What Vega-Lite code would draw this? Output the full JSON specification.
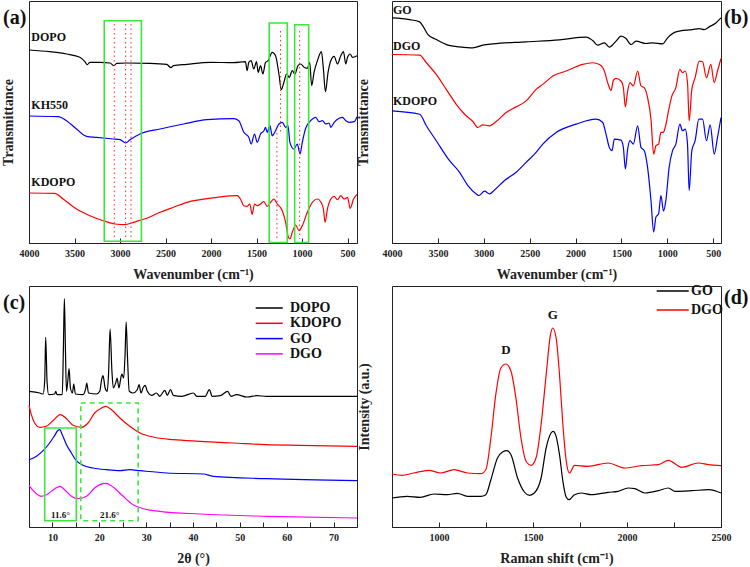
{
"$schema": "https://vega.github.io/schema/vega-lite/v6.json",
"padding": {"left": 0, "top": 0, "right": 2, "bottom": 2},
"background": "white",
"columns": 2,
"bounds": "flush",
"spacing": {"row": 43, "column": 35},
"resolve": {"scale": {"x": "independent", "y": "independent", "color": "independent"}, "legend": {"color": "independent"}},
"config": {
  "font": "Liberation Serif",
  "view": {"stroke": "#222222", "strokeWidth": 1},
  "axis": {"grid": false, "labelFont": "Liberation Serif", "labelFontWeight": "bold", "labelFontSize": 10, "labelColor": "#222222", "titleFont": "Liberation Serif", "titleFontWeight": "bold", "titleFontSize": 14, "titleColor": "#222222", "domainColor": "#222222", "tickColor": "#222222"},
  "axisX": {"tickSize": -5, "labelPadding": 10, "titlePadding": 9, "labelFlush": false, "labelOverlap": false, "labelAngle": 0, "format": "d"},
  "axisY": {"labels": false, "ticks": false, "domain": false},
  "text": {"font": "Liberation Serif", "fontWeight": "bold", "color": "#111111"}
},
"datasets": {
  "ftirA": [
    {"s":"DOPO","x":4000,"y":193.0},{"s":"DOPO","x":3772,"y":191.3},{"s":"DOPO","x":3588,"y":189.0},{"s":"DOPO","x":3441,"y":185.7},{"s":"DOPO","x":3386,"y":181.3},{"s":"DOPO","x":3360,"y":178.3},{"s":"DOPO","x":3331,"y":180.7},{"s":"DOPO","x":3221,"y":180.7},{"s":"DOPO","x":3110,"y":180.0},{"s":"DOPO","x":3066,"y":177.3},{"s":"DOPO","x":3037,"y":179.7},{"s":"DOPO","x":2927,"y":180.0},{"s":"DOPO","x":2669,"y":179.7},{"s":"DOPO","x":2486,"y":178.7},{"s":"DOPO","x":2441,"y":175.3},{"s":"DOPO","x":2412,"y":177.3},{"s":"DOPO","x":2265,"y":178.7},{"s":"DOPO","x":2008,"y":180.7},{"s":"DOPO","x":1750,"y":180.3},{"s":"DOPO","x":1622,"y":181.3},{"s":"DOPO","x":1603,"y":172.3},{"s":"DOPO","x":1585,"y":180.7},{"s":"DOPO","x":1559,"y":182.3},{"s":"DOPO","x":1530,"y":174.0},{"s":"DOPO","x":1500,"y":181.3},{"s":"DOPO","x":1482,"y":170.7},{"s":"DOPO","x":1456,"y":177.3},{"s":"DOPO","x":1430,"y":169.0},{"s":"DOPO","x":1401,"y":180.7},{"s":"DOPO","x":1372,"y":182.3},{"s":"DOPO","x":1328,"y":190.7},{"s":"DOPO","x":1291,"y":187.3},{"s":"DOPO","x":1254,"y":169.0},{"s":"DOPO","x":1228,"y":153.3},{"s":"DOPO","x":1199,"y":160.7},{"s":"DOPO","x":1170,"y":169.0},{"s":"DOPO","x":1140,"y":165.7},{"s":"DOPO","x":1107,"y":172.3},{"s":"DOPO","x":1078,"y":169.0},{"s":"DOPO","x":1045,"y":177.3},{"s":"DOPO","x":1015,"y":179.0},{"s":"DOPO","x":978,"y":175.7},{"s":"DOPO","x":942,"y":174.7},{"s":"DOPO","x":916,"y":180.7},{"s":"DOPO","x":894,"y":157.3},{"s":"DOPO","x":868,"y":170.7},{"s":"DOPO","x":831,"y":182.3},{"s":"DOPO","x":787,"y":191.3},{"s":"DOPO","x":765,"y":174.0},{"s":"DOPO","x":743,"y":151.3},{"s":"DOPO","x":714,"y":170.7},{"s":"DOPO","x":684,"y":182.3},{"s":"DOPO","x":647,"y":186.7},{"s":"DOPO","x":611,"y":179.0},{"s":"DOPO","x":574,"y":187.3},{"s":"DOPO","x":545,"y":191.3},{"s":"DOPO","x":519,"y":179.0},{"s":"DOPO","x":500,"y":185.7},{"s":"DOPO","x":471,"y":189.0},{"s":"DOPO","x":445,"y":185.7},{"s":"DOPO","x":396,"y":187.3},
    {"s":"KH550","x":4000,"y":127.0},{"s":"KH550","x":3680,"y":126.3},{"s":"KH550","x":3588,"y":122.3},{"s":"KH550","x":3478,"y":114.0},{"s":"KH550","x":3368,"y":106.7},{"s":"KH550","x":3257,"y":105.7},{"s":"KH550","x":3074,"y":104.0},{"s":"KH550","x":3000,"y":103.3},{"s":"KH550","x":2938,"y":100.0},{"s":"KH550","x":2890,"y":103.3},{"s":"KH550","x":2780,"y":109.0},{"s":"KH550","x":2559,"y":114.0},{"s":"KH550","x":2302,"y":119.0},{"s":"KH550","x":2044,"y":123.3},{"s":"KH550","x":1750,"y":124.3},{"s":"KH550","x":1695,"y":122.3},{"s":"KH550","x":1640,"y":110.7},{"s":"KH550","x":1585,"y":105.7},{"s":"KH550","x":1559,"y":99.0},{"s":"KH550","x":1522,"y":109.0},{"s":"KH550","x":1493,"y":100.7},{"s":"KH550","x":1456,"y":109.0},{"s":"KH550","x":1419,"y":112.3},{"s":"KH550","x":1401,"y":115.7},{"s":"KH550","x":1383,"y":110.7},{"s":"KH550","x":1353,"y":117.3},{"s":"KH550","x":1328,"y":107.3},{"s":"KH550","x":1291,"y":112.3},{"s":"KH550","x":1254,"y":119.0},{"s":"KH550","x":1217,"y":120.7},{"s":"KH550","x":1180,"y":115.7},{"s":"KH550","x":1155,"y":117.3},{"s":"KH550","x":1133,"y":100.7},{"s":"KH550","x":1089,"y":94.0},{"s":"KH550","x":1052,"y":99.0},{"s":"KH550","x":1022,"y":89.0},{"s":"KH550","x":997,"y":100.7},{"s":"KH550","x":960,"y":114.7},{"s":"KH550","x":905,"y":122.3},{"s":"KH550","x":850,"y":125.7},{"s":"KH550","x":813,"y":121.3},{"s":"KH550","x":776,"y":122.3},{"s":"KH550","x":739,"y":119.0},{"s":"KH550","x":703,"y":120.0},{"s":"KH550","x":684,"y":115.7},{"s":"KH550","x":647,"y":120.7},{"s":"KH550","x":592,"y":124.7},{"s":"KH550","x":556,"y":125.7},{"s":"KH550","x":519,"y":122.3},{"s":"KH550","x":482,"y":120.7},{"s":"KH550","x":427,"y":121.3},{"s":"KH550","x":396,"y":126.3},
    {"s":"KDOPO","x":4000,"y":50.0},{"s":"KDOPO","x":3717,"y":49.7},{"s":"KDOPO","x":3625,"y":44.0},{"s":"KDOPO","x":3478,"y":34.0},{"s":"KDOPO","x":3331,"y":27.3},{"s":"KDOPO","x":3184,"y":22.3},{"s":"KDOPO","x":3055,"y":19.0},{"s":"KDOPO","x":2945,"y":18.3},{"s":"KDOPO","x":2853,"y":20.7},{"s":"KDOPO","x":2706,"y":24.7},{"s":"KDOPO","x":2559,"y":30.7},{"s":"KDOPO","x":2412,"y":35.7},{"s":"KDOPO","x":2265,"y":40.7},{"s":"KDOPO","x":2118,"y":43.3},{"s":"KDOPO","x":1934,"y":45.7},{"s":"KDOPO","x":1713,"y":47.3},{"s":"KDOPO","x":1677,"y":44.0},{"s":"KDOPO","x":1640,"y":37.3},{"s":"KDOPO","x":1603,"y":36.7},{"s":"KDOPO","x":1574,"y":39.0},{"s":"KDOPO","x":1548,"y":28.7},{"s":"KDOPO","x":1522,"y":39.0},{"s":"KDOPO","x":1493,"y":37.3},{"s":"KDOPO","x":1456,"y":39.0},{"s":"KDOPO","x":1419,"y":41.3},{"s":"KDOPO","x":1383,"y":36.7},{"s":"KDOPO","x":1346,"y":40.7},{"s":"KDOPO","x":1309,"y":44.0},{"s":"KDOPO","x":1272,"y":39.0},{"s":"KDOPO","x":1217,"y":32.3},{"s":"KDOPO","x":1180,"y":20.7},{"s":"KDOPO","x":1155,"y":7.3},{"s":"KDOPO","x":1133,"y":4.0},{"s":"KDOPO","x":1107,"y":10.7},{"s":"KDOPO","x":1070,"y":18.0},{"s":"KDOPO","x":1034,"y":12.3},{"s":"KDOPO","x":997,"y":17.3},{"s":"KDOPO","x":942,"y":30.7},{"s":"KDOPO","x":887,"y":40.7},{"s":"KDOPO","x":831,"y":44.0},{"s":"KDOPO","x":795,"y":41.3},{"s":"KDOPO","x":765,"y":34.0},{"s":"KDOPO","x":747,"y":20.7},{"s":"KDOPO","x":721,"y":34.0},{"s":"KDOPO","x":684,"y":44.0},{"s":"KDOPO","x":647,"y":46.7},{"s":"KDOPO","x":611,"y":43.3},{"s":"KDOPO","x":574,"y":47.3},{"s":"KDOPO","x":537,"y":44.0},{"s":"KDOPO","x":500,"y":45.7},{"s":"KDOPO","x":471,"y":34.7},{"s":"KDOPO","x":434,"y":44.0},{"s":"KDOPO","x":396,"y":48.7}
  ],
  "ftirB": [
    {"s":"GO","x":4000,"y":226.0},{"s":"GO","x":3808,"y":224.3},{"s":"GO","x":3699,"y":222.0},{"s":"GO","x":3663,"y":217.7},{"s":"GO","x":3608,"y":209.3},{"s":"GO","x":3518,"y":204.3},{"s":"GO","x":3391,"y":198.7},{"s":"GO","x":3264,"y":197.0},{"s":"GO","x":3119,"y":196.0},{"s":"GO","x":3010,"y":198.7},{"s":"GO","x":2901,"y":200.0},{"s":"GO","x":2538,"y":202.0},{"s":"GO","x":2176,"y":204.0},{"s":"GO","x":1886,"y":206.7},{"s":"GO","x":1813,"y":203.3},{"s":"GO","x":1759,"y":198.7},{"s":"GO","x":1686,"y":201.0},{"s":"GO","x":1632,"y":196.7},{"s":"GO","x":1559,"y":202.7},{"s":"GO","x":1505,"y":207.7},{"s":"GO","x":1450,"y":205.3},{"s":"GO","x":1396,"y":199.3},{"s":"GO","x":1341,"y":202.7},{"s":"GO","x":1233,"y":200.3},{"s":"GO","x":1160,"y":201.0},{"s":"GO","x":1051,"y":200.0},{"s":"GO","x":997,"y":206.0},{"s":"GO","x":906,"y":212.0},{"s":"GO","x":725,"y":214.3},{"s":"GO","x":652,"y":215.3},{"s":"GO","x":598,"y":214.3},{"s":"GO","x":544,"y":217.0},{"s":"GO","x":471,"y":221.0},{"s":"GO","x":415,"y":226.0},
    {"s":"DGO","x":4000,"y":189.3},{"s":"DGO","x":3699,"y":188.7},{"s":"DGO","x":3626,"y":181.0},{"s":"DGO","x":3518,"y":169.3},{"s":"DGO","x":3409,"y":154.3},{"s":"DGO","x":3300,"y":139.3},{"s":"DGO","x":3209,"y":129.3},{"s":"DGO","x":3119,"y":122.0},{"s":"DGO","x":3064,"y":116.0},{"s":"DGO","x":3010,"y":118.7},{"s":"DGO","x":2937,"y":117.7},{"s":"DGO","x":2865,"y":122.0},{"s":"DGO","x":2756,"y":131.0},{"s":"DGO","x":2647,"y":136.7},{"s":"DGO","x":2538,"y":142.7},{"s":"DGO","x":2430,"y":154.3},{"s":"DGO","x":2357,"y":159.3},{"s":"DGO","x":2248,"y":167.7},{"s":"DGO","x":2103,"y":172.7},{"s":"DGO","x":1922,"y":179.3},{"s":"DGO","x":1813,"y":181.0},{"s":"DGO","x":1740,"y":179.3},{"s":"DGO","x":1686,"y":172.7},{"s":"DGO","x":1650,"y":161.0},{"s":"DGO","x":1613,"y":153.3},{"s":"DGO","x":1588,"y":163.3},{"s":"DGO","x":1559,"y":165.3},{"s":"DGO","x":1505,"y":162.7},{"s":"DGO","x":1479,"y":156.0},{"s":"DGO","x":1457,"y":136.7},{"s":"DGO","x":1432,"y":152.7},{"s":"DGO","x":1407,"y":161.0},{"s":"DGO","x":1370,"y":157.7},{"s":"DGO","x":1323,"y":172.7},{"s":"DGO","x":1287,"y":157.7},{"s":"DGO","x":1251,"y":156.0},{"s":"DGO","x":1215,"y":146.0},{"s":"DGO","x":1178,"y":124.3},{"s":"DGO","x":1149,"y":89.3},{"s":"DGO","x":1124,"y":97.7},{"s":"DGO","x":1095,"y":99.3},{"s":"DGO","x":1070,"y":111.0},{"s":"DGO","x":1045,"y":111.0},{"s":"DGO","x":1023,"y":116.0},{"s":"DGO","x":987,"y":132.7},{"s":"DGO","x":950,"y":147.7},{"s":"DGO","x":907,"y":156.0},{"s":"DGO","x":863,"y":174.3},{"s":"DGO","x":834,"y":171.0},{"s":"DGO","x":805,"y":172.7},{"s":"DGO","x":780,"y":161.0},{"s":"DGO","x":762,"y":122.7},{"s":"DGO","x":733,"y":154.3},{"s":"DGO","x":697,"y":166.0},{"s":"DGO","x":652,"y":182.7},{"s":"DGO","x":616,"y":182.0},{"s":"DGO","x":573,"y":166.0},{"s":"DGO","x":526,"y":179.3},{"s":"DGO","x":489,"y":161.0},{"s":"DGO","x":453,"y":172.7},{"s":"DGO","x":415,"y":185.3},
    {"s":"KDOPO","x":4000,"y":132.7},{"s":"KDOPO","x":3699,"y":129.3},{"s":"KDOPO","x":3626,"y":117.7},{"s":"KDOPO","x":3518,"y":102.7},{"s":"KDOPO","x":3373,"y":82.7},{"s":"KDOPO","x":3264,"y":71.0},{"s":"KDOPO","x":3173,"y":57.7},{"s":"KDOPO","x":3082,"y":49.3},{"s":"KDOPO","x":3053,"y":47.7},{"s":"KDOPO","x":2992,"y":52.0},{"s":"KDOPO","x":2937,"y":49.3},{"s":"KDOPO","x":2883,"y":53.3},{"s":"KDOPO","x":2774,"y":62.7},{"s":"KDOPO","x":2647,"y":71.0},{"s":"KDOPO","x":2538,"y":81.0},{"s":"KDOPO","x":2430,"y":91.0},{"s":"KDOPO","x":2357,"y":99.3},{"s":"KDOPO","x":2212,"y":111.0},{"s":"KDOPO","x":1994,"y":119.3},{"s":"KDOPO","x":1777,"y":124.3},{"s":"KDOPO","x":1704,"y":121.0},{"s":"KDOPO","x":1668,"y":109.3},{"s":"KDOPO","x":1632,"y":96.0},{"s":"KDOPO","x":1603,"y":92.7},{"s":"KDOPO","x":1577,"y":104.3},{"s":"KDOPO","x":1505,"y":103.3},{"s":"KDOPO","x":1479,"y":96.0},{"s":"KDOPO","x":1457,"y":74.3},{"s":"KDOPO","x":1432,"y":94.3},{"s":"KDOPO","x":1407,"y":102.7},{"s":"KDOPO","x":1370,"y":99.3},{"s":"KDOPO","x":1323,"y":117.7},{"s":"KDOPO","x":1287,"y":96.0},{"s":"KDOPO","x":1251,"y":92.7},{"s":"KDOPO","x":1215,"y":76.0},{"s":"KDOPO","x":1178,"y":42.7},{"s":"KDOPO","x":1149,"y":11.0},{"s":"KDOPO","x":1124,"y":26.0},{"s":"KDOPO","x":1095,"y":29.3},{"s":"KDOPO","x":1070,"y":47.7},{"s":"KDOPO","x":1041,"y":32.0},{"s":"KDOPO","x":1016,"y":42.7},{"s":"KDOPO","x":980,"y":76.0},{"s":"KDOPO","x":943,"y":92.7},{"s":"KDOPO","x":907,"y":99.3},{"s":"KDOPO","x":863,"y":119.3},{"s":"KDOPO","x":834,"y":112.7},{"s":"KDOPO","x":805,"y":114.3},{"s":"KDOPO","x":780,"y":99.3},{"s":"KDOPO","x":762,"y":52.7},{"s":"KDOPO","x":733,"y":92.7},{"s":"KDOPO","x":697,"y":102.7},{"s":"KDOPO","x":656,"y":124.3},{"s":"KDOPO","x":616,"y":124.3},{"s":"KDOPO","x":573,"y":102.7},{"s":"KDOPO","x":533,"y":118.7},{"s":"KDOPO","x":489,"y":89.3},{"s":"KDOPO","x":453,"y":106.0},{"s":"KDOPO","x":415,"y":126.0}
  ],
  "xrdC": [
    {"s":"DOPO","x":5.0,"y":135.7},{"s":"DOPO","x":7.3,"y":134.0},{"s":"DOPO","x":8.0,"y":133.0},{"s":"DOPO","x":8.35,"y":145.7},{"s":"DOPO","x":8.56,"y":189.7},{"s":"DOPO","x":8.85,"y":145.7},{"s":"DOPO","x":9.2,"y":132.3},{"s":"DOPO","x":10.5,"y":133.0},{"s":"DOPO","x":10.7,"y":135.7},{"s":"DOPO","x":11.0,"y":132.3},{"s":"DOPO","x":12.1,"y":132.3},{"s":"DOPO","x":12.34,"y":179.0},{"s":"DOPO","x":12.55,"y":228.3},{"s":"DOPO","x":12.77,"y":179.0},{"s":"DOPO","x":13.0,"y":135.7},{"s":"DOPO","x":13.27,"y":145.7},{"s":"DOPO","x":13.55,"y":158.3},{"s":"DOPO","x":13.84,"y":139.0},{"s":"DOPO","x":14.27,"y":134.0},{"s":"DOPO","x":14.55,"y":143.0},{"s":"DOPO","x":14.9,"y":133.0},{"s":"DOPO","x":16.5,"y":132.3},{"s":"DOPO","x":17.1,"y":138.3},{"s":"DOPO","x":17.33,"y":144.0},{"s":"DOPO","x":17.7,"y":134.0},{"s":"DOPO","x":19.4,"y":133.0},{"s":"DOPO","x":20.1,"y":135.7},{"s":"DOPO","x":20.5,"y":147.3},{"s":"DOPO","x":20.8,"y":151.3},{"s":"DOPO","x":21.25,"y":139.0},{"s":"DOPO","x":21.7,"y":135.7},{"s":"DOPO","x":22.0,"y":155.7},{"s":"DOPO","x":22.3,"y":198.0},{"s":"DOPO","x":22.7,"y":155.7},{"s":"DOPO","x":23.0,"y":139.0},{"s":"DOPO","x":23.5,"y":144.0},{"s":"DOPO","x":23.8,"y":149.0},{"s":"DOPO","x":24.2,"y":139.0},{"s":"DOPO","x":24.5,"y":146.3},{"s":"DOPO","x":24.8,"y":153.0},{"s":"DOPO","x":25.2,"y":149.0},{"s":"DOPO","x":25.5,"y":172.3},{"s":"DOPO","x":25.74,"y":205.0},{"s":"DOPO","x":26.0,"y":172.3},{"s":"DOPO","x":26.4,"y":135.7},{"s":"DOPO","x":27.2,"y":134.0},{"s":"DOPO","x":28.1,"y":137.3},{"s":"DOPO","x":28.5,"y":142.3},{"s":"DOPO","x":28.9,"y":134.0},{"s":"DOPO","x":29.4,"y":139.7},{"s":"DOPO","x":29.8,"y":141.7},{"s":"DOPO","x":30.2,"y":136.3},{"s":"DOPO","x":31.2,"y":131.7},{"s":"DOPO","x":32.2,"y":134.0},{"s":"DOPO","x":32.9,"y":130.7},{"s":"DOPO","x":34.0,"y":136.7},{"s":"DOPO","x":34.5,"y":131.7},{"s":"DOPO","x":35.2,"y":137.3},{"s":"DOPO","x":35.8,"y":131.7},{"s":"DOPO","x":37.6,"y":130.7},{"s":"DOPO","x":40.1,"y":134.0},{"s":"DOPO","x":40.8,"y":130.7},{"s":"DOPO","x":42.6,"y":130.7},{"s":"DOPO","x":43.5,"y":137.3},{"s":"DOPO","x":44.1,"y":130.7},{"s":"DOPO","x":45.8,"y":131.3},{"s":"DOPO","x":47.4,"y":135.7},{"s":"DOPO","x":48.1,"y":130.7},{"s":"DOPO","x":49.3,"y":132.3},{"s":"DOPO","x":51.5,"y":130.0},{"s":"DOPO","x":53.6,"y":131.3},{"s":"DOPO","x":55.7,"y":130.7},{"s":"DOPO","x":62.9,"y":130.7},{"s":"DOPO","x":75.0,"y":130.7},
    {"s":"KDOPO","x":5.0,"y":121.7},{"s":"KDOPO","x":5.5,"y":112.3},{"s":"KDOPO","x":6.2,"y":104.0},{"s":"KDOPO","x":7.3,"y":99.7},{"s":"KDOPO","x":8.7,"y":100.7},{"s":"KDOPO","x":10.1,"y":106.3},{"s":"KDOPO","x":11.7,"y":112.3},{"s":"KDOPO","x":13.0,"y":108.3},{"s":"KDOPO","x":14.4,"y":101.7},{"s":"KDOPO","x":16.2,"y":99.7},{"s":"KDOPO","x":17.6,"y":104.0},{"s":"KDOPO","x":19.0,"y":114.0},{"s":"KDOPO","x":20.5,"y":119.0},{"s":"KDOPO","x":21.4,"y":120.7},{"s":"KDOPO","x":22.6,"y":117.3},{"s":"KDOPO","x":24.4,"y":109.0},{"s":"KDOPO","x":26.5,"y":100.7},{"s":"KDOPO","x":28.7,"y":94.0},{"s":"KDOPO","x":31.5,"y":90.0},{"s":"KDOPO","x":35.8,"y":87.3},{"s":"KDOPO","x":41.5,"y":85.7},{"s":"KDOPO","x":48.6,"y":84.0},{"s":"KDOPO","x":55.7,"y":82.3},{"s":"KDOPO","x":62.9,"y":81.7},{"s":"KDOPO","x":75.0,"y":80.7},
    {"s":"GO","x":5.0,"y":67.3},{"s":"GO","x":6.6,"y":70.7},{"s":"GO","x":8.0,"y":76.3},{"s":"GO","x":9.4,"y":84.0},{"s":"GO","x":10.5,"y":91.7},{"s":"GO","x":11.2,"y":96.7},{"s":"GO","x":11.56,"y":97.3},{"s":"GO","x":12.1,"y":92.3},{"s":"GO","x":13.0,"y":82.3},{"s":"GO","x":14.05,"y":74.0},{"s":"GO","x":15.1,"y":66.3},{"s":"GO","x":16.5,"y":61.7},{"s":"GO","x":18.7,"y":59.0},{"s":"GO","x":21.5,"y":57.3},{"s":"GO","x":24.4,"y":56.3},{"s":"GO","x":26.5,"y":57.3},{"s":"GO","x":28.7,"y":56.3},{"s":"GO","x":34.4,"y":54.0},{"s":"GO","x":42.2,"y":53.0},{"s":"GO","x":44.3,"y":50.7},{"s":"GO","x":55.7,"y":48.3},{"s":"GO","x":75.0,"y":46.3},
    {"s":"DGO","x":5.0,"y":41.7},{"s":"DGO","x":5.9,"y":36.3},{"s":"DGO","x":7.6,"y":30.7},{"s":"DGO","x":9.1,"y":33.3},{"s":"DGO","x":10.5,"y":38.3},{"s":"DGO","x":11.6,"y":40.7},{"s":"DGO","x":12.6,"y":37.3},{"s":"DGO","x":14.05,"y":30.7},{"s":"DGO","x":15.5,"y":28.3},{"s":"DGO","x":17.3,"y":30.7},{"s":"DGO","x":19.0,"y":39.0},{"s":"DGO","x":20.8,"y":43.3},{"s":"DGO","x":21.5,"y":43.7},{"s":"DGO","x":23.0,"y":39.7},{"s":"DGO","x":25.1,"y":30.7},{"s":"DGO","x":27.2,"y":22.3},{"s":"DGO","x":29.4,"y":18.3},{"s":"DGO","x":32.9,"y":15.7},{"s":"DGO","x":41.5,"y":13.0},{"s":"DGO","x":55.7,"y":10.7},{"s":"DGO","x":75.0,"y":9.0}
  ],
  "ramanD": [
    {"s":"GO","x":750,"y":29.0},{"s":"GO","x":830,"y":30.7},{"s":"GO","x":901,"y":29.7},{"s":"GO","x":973,"y":33.0},{"s":"GO","x":1044,"y":32.3},{"s":"GO","x":1097,"y":33.7},{"s":"GO","x":1151,"y":30.7},{"s":"GO","x":1222,"y":30.7},{"s":"GO","x":1249,"y":32.3},{"s":"GO","x":1276,"y":47.3},{"s":"GO","x":1311,"y":69.0},{"s":"GO","x":1338,"y":75.0},{"s":"GO","x":1361,"y":76.3},{"s":"GO","x":1383,"y":72.3},{"s":"GO","x":1418,"y":49.0},{"s":"GO","x":1454,"y":35.0},{"s":"GO","x":1481,"y":31.7},{"s":"GO","x":1507,"y":34.0},{"s":"GO","x":1543,"y":49.0},{"s":"GO","x":1570,"y":79.0},{"s":"GO","x":1596,"y":94.0},{"s":"GO","x":1607,"y":95.7},{"s":"GO","x":1623,"y":90.7},{"s":"GO","x":1641,"y":72.3},{"s":"GO","x":1659,"y":45.7},{"s":"GO","x":1677,"y":29.7},{"s":"GO","x":1691,"y":27.3},{"s":"GO","x":1721,"y":32.3},{"s":"GO","x":1757,"y":34.0},{"s":"GO","x":1810,"y":32.3},{"s":"GO","x":1899,"y":34.7},{"s":"GO","x":1953,"y":35.7},{"s":"GO","x":2006,"y":39.0},{"s":"GO","x":2042,"y":38.3},{"s":"GO","x":2095,"y":34.0},{"s":"GO","x":2167,"y":36.3},{"s":"GO","x":2220,"y":39.0},{"s":"GO","x":2256,"y":35.7},{"s":"GO","x":2345,"y":36.3},{"s":"GO","x":2434,"y":37.3},{"s":"GO","x":2500,"y":34.0},
    {"s":"DGO","x":750,"y":53.0},{"s":"DGO","x":803,"y":51.7},{"s":"DGO","x":866,"y":54.0},{"s":"DGO","x":946,"y":56.7},{"s":"DGO","x":1008,"y":54.0},{"s":"DGO","x":1080,"y":57.3},{"s":"DGO","x":1151,"y":54.0},{"s":"DGO","x":1222,"y":53.3},{"s":"DGO","x":1249,"y":57.3},{"s":"DGO","x":1276,"y":89.0},{"s":"DGO","x":1302,"y":132.3},{"s":"DGO","x":1329,"y":159.0},{"s":"DGO","x":1356,"y":163.0},{"s":"DGO","x":1383,"y":155.7},{"s":"DGO","x":1409,"y":129.0},{"s":"DGO","x":1436,"y":89.0},{"s":"DGO","x":1463,"y":65.7},{"s":"DGO","x":1490,"y":61.7},{"s":"DGO","x":1516,"y":69.0},{"s":"DGO","x":1543,"y":102.3},{"s":"DGO","x":1570,"y":152.3},{"s":"DGO","x":1593,"y":192.3},{"s":"DGO","x":1605,"y":199.0},{"s":"DGO","x":1623,"y":189.0},{"s":"DGO","x":1641,"y":152.3},{"s":"DGO","x":1659,"y":102.3},{"s":"DGO","x":1677,"y":65.7},{"s":"DGO","x":1694,"y":54.0},{"s":"DGO","x":1721,"y":61.7},{"s":"DGO","x":1792,"y":60.7},{"s":"DGO","x":1899,"y":64.0},{"s":"DGO","x":1988,"y":59.0},{"s":"DGO","x":2077,"y":61.3},{"s":"DGO","x":2167,"y":62.3},{"s":"DGO","x":2220,"y":66.7},{"s":"DGO","x":2291,"y":59.7},{"s":"DGO","x":2380,"y":64.0},{"s":"DGO","x":2434,"y":62.3},{"s":"DGO","x":2500,"y":61.3}
  ]
},
"concat": [
  {
    "width": 328, "height": 242,
    "layer": [
      {"data": {"name": "ftirA"},
       "mark": {"type": "line", "strokeWidth": 1.2, "interpolate": "monotone"},
       "encoding": {
         "x": {"field": "x", "type": "quantitative", "scale": {"domain": [396, 4000], "reverse": true, "nice": false, "zero": false},
               "axis": {"title": "Wavenumber (cm⁻¹)", "values": [4000,3750,3500,3250,3000,2750,2500,2250,2000,1750,1500,1250,1000,750,500], "labelExpr": "abs(datum.value / 500 - round(datum.value / 500)) < 0.01 ? datum.label : ''"}},
         "y": {"field": "y", "type": "quantitative", "scale": {"domain": [0, 242], "nice": false, "zero": false}, "axis": {"title": "Transmittance", "titlePadding": 14}},
         "color": {"field": "s", "type": "nominal", "scale": {"domain": ["DOPO","KH550","KDOPO"], "range": ["#000000","#0000ff","#ff0000"]}, "legend": null}
       }},
      {"data": {"values": [{"x":3173,"x2":2765,"y":222.3,"y2":1.7},{"x":1361,"x2":1162,"y":220,"y2":0.5},{"x":1081,"x2":927,"y":218.3,"y2":0.5}]},
       "mark": {"type": "rect", "filled": false, "stroke": "#3ce63c", "strokeWidth": 1.6},
       "encoding": {"x": {"field": "x", "type": "quantitative"}, "x2": {"field": "x2"}, "y": {"field": "y", "type": "quantitative"}, "y2": {"field": "y2"}}},
      {"data": {"values": [{"x":3063,"y":219,"y2":4},{"x":2938,"y":219,"y2":4},{"x":2879,"y":219,"y2":4},{"x":1236,"y":212,"y2":110},{"x":1276,"y":110,"y2":4},{"x":1026,"y":212,"y2":4}]},
       "mark": {"type": "rule", "stroke": "#ff2a2a", "strokeWidth": 1, "strokeDash": [1.5, 3]},
       "encoding": {"x": {"field": "x", "type": "quantitative"}, "y": {"field": "y", "type": "quantitative"}, "y2": {"field": "y2"}}},
      {"data": {"values": [{"x":3974,"y":206,"t":"DOPO"},{"x":3974,"y":138,"t":"KH550"},{"x":3974,"y":61,"t":"KDOPO"}]},
       "mark": {"type": "text", "align": "left", "baseline": "middle", "fontSize": 12},
       "encoding": {"x": {"field": "x", "type": "quantitative"}, "y": {"field": "y", "type": "quantitative"}, "text": {"field": "t"}}},
      {"data": {"values": [{"x":4286,"y":225,"t":"(a)"}]},
       "mark": {"type": "text", "align": "left", "baseline": "middle", "fontSize": 20},
       "encoding": {"x": {"field": "x", "type": "quantitative"}, "y": {"field": "y", "type": "quantitative"}, "text": {"field": "t"}}}
    ]
  },
  {
    "width": 329, "height": 242,
    "layer": [
      {"data": {"name": "ftirB"},
       "mark": {"type": "line", "strokeWidth": 1.2, "interpolate": "monotone"},
       "encoding": {
         "x": {"field": "x", "type": "quantitative", "scale": {"domain": [415, 4000], "reverse": true, "nice": false, "zero": false},
               "axis": {"title": "Wavenumber (cm⁻¹)", "values": [4000,3750,3500,3250,3000,2750,2500,2250,2000,1750,1500,1250,1000,750,500], "labelExpr": "abs(datum.value / 500 - round(datum.value / 500)) < 0.01 ? datum.label : ''"}},
         "y": {"field": "y", "type": "quantitative", "scale": {"domain": [0, 243], "nice": false, "zero": false}, "axis": {"title": "Transmittance", "titlePadding": 22}},
         "color": {"field": "s", "type": "nominal", "scale": {"domain": ["GO","DGO","KDOPO"], "range": ["#000000","#ff0000","#0000ff"]}, "legend": null}
       }},
      {"data": {"values": [{"x":3989,"y":234,"t":"GO"},{"x":3989,"y":198,"t":"DGO"},{"x":3989,"y":143,"t":"KDOPO"}]},
       "mark": {"type": "text", "align": "left", "baseline": "middle", "fontSize": 12},
       "encoding": {"x": {"field": "x", "type": "quantitative"}, "y": {"field": "y", "type": "quantitative"}, "text": {"field": "t"}}},
      {"data": {"values": [{"x":382,"y":226,"t":"(b)"}]},
       "mark": {"type": "text", "align": "left", "baseline": "middle", "fontSize": 20},
       "encoding": {"x": {"field": "x", "type": "quantitative"}, "y": {"field": "y", "type": "quantitative"}, "text": {"field": "t"}}}
    ]
  },
  {
    "width": 328, "height": 241,
    "resolve": {"axis": {"x": "independent"}},
    "layer": [
      {"data": {"name": "xrdC"},
       "mark": {"type": "line", "strokeWidth": 1.2, "interpolate": "monotone"},
       "encoding": {
         "x": {"field": "x", "type": "quantitative", "scale": {"domain": [5, 75], "nice": false, "zero": false},
               "axis": {"orient": "bottom", "title": "2θ (°)", "values": [10,20,30,40,50,60,70]}},
         "y": {"field": "y", "type": "quantitative", "scale": {"domain": [0, 241], "nice": false, "zero": false}, "axis": {"title": null}},
         "color": {"field": "s", "type": "nominal", "scale": {"domain": ["DOPO","KDOPO","GO","DGO"], "range": ["#000000","#ff0000","#0000ff","#ff00ff"]},
                   "legend": {"orient": "top-right", "offset": 15, "title": null, "padding": 0, "symbolType": "M-3.71,0H1", "symbolSize": 132, "symbolStrokeWidth": 1.5, "labelFont": "Liberation Serif", "labelFontWeight": "bold", "labelFontSize": 14, "labelColor": "#111111", "labelOffset": 6, "rowPadding": 1.3}}
       }},
      {"data": {"values": [{"x":8.35,"x2":15.1,"y":99,"y2":6.3}]},
       "mark": {"type": "rect", "filled": false, "stroke": "#3ce63c", "strokeWidth": 1.6},
       "encoding": {"x": {"field": "x", "type": "quantitative", "axis": {"orient": "bottom", "title": null, "labels": false, "domain": false, "values": [15,25,35,45,55,65]}}, "x2": {"field": "x2"}, "y": {"field": "y", "type": "quantitative"}, "y2": {"field": "y2"}}},
      {"data": {"values": [{"x":16.05,"x2":28.3,"y":124,"y2":6.3}]},
       "mark": {"type": "rect", "filled": false, "stroke": "#3ce63c", "strokeWidth": 1.6, "strokeDash": [5, 4]},
       "encoding": {"x": {"field": "x", "type": "quantitative", "axis": null}, "x2": {"field": "x2"}, "y": {"field": "y", "type": "quantitative"}, "y2": {"field": "y2"}}},
      {"data": {"values": [{"x":11.7,"y":12.5,"t":"11.6°"},{"x":22.2,"y":12.5,"t":"21.6°"}]},
       "mark": {"type": "text", "align": "center", "baseline": "middle", "fontSize": 9},
       "encoding": {"x": {"field": "x", "type": "quantitative", "axis": null}, "y": {"field": "y", "type": "quantitative"}, "text": {"field": "t"}}},
      {"data": {"values": [{"x":-0.55,"y":224,"t":"(c)"}]},
       "mark": {"type": "text", "align": "left", "baseline": "middle", "fontSize": 20},
       "encoding": {"x": {"field": "x", "type": "quantitative", "axis": null}, "y": {"field": "y", "type": "quantitative"}, "text": {"field": "t"}}}
    ]
  },
  {
    "width": 329, "height": 241,
    "layer": [
      {"data": {"name": "ramanD"},
       "mark": {"type": "line", "strokeWidth": 1.2, "interpolate": "monotone"},
       "encoding": {
         "x": {"field": "x", "type": "quantitative", "scale": {"domain": [750, 2500], "nice": false, "zero": false},
               "axis": {"title": "Raman shift (cm⁻¹)", "values": [750,1000,1250,1500,1750,2000,2250,2500], "labelExpr": "abs(datum.value / 500 - round(datum.value / 500)) < 0.01 ? datum.label : ''"}},
         "y": {"field": "y", "type": "quantitative", "scale": {"domain": [0, 241], "nice": false, "zero": false}, "axis": {"title": "Intensity (a.u.)", "titlePadding": 21}},
         "color": {"field": "s", "type": "nominal", "scale": {"domain": ["GO","DGO"], "range": ["#000000","#ff0000"]},
                   "legend": {"orient": "top-right", "offset": -2, "title": null, "padding": 0, "symbolType": "M-4.58,0H1", "symbolSize": 132, "symbolStrokeWidth": 1.5, "labelFont": "Liberation Serif", "labelFontWeight": "bold", "labelFontSize": 14, "labelColor": "#111111", "labelOffset": 1, "rowPadding": 5}}
       }},
      {"data": {"values": [{"x":1356,"y":177,"t":"D"},{"x":1605,"y":212,"t":"G"}]},
       "mark": {"type": "text", "align": "center", "baseline": "middle", "fontSize": 13},
       "encoding": {"x": {"field": "x", "type": "quantitative"}, "y": {"field": "y", "type": "quantitative"}, "text": {"field": "t"}}},
      {"data": {"values": [{"x":2516,"y":229,"t":"(d)"}]},
       "mark": {"type": "text", "align": "left", "baseline": "middle", "fontSize": 20},
       "encoding": {"x": {"field": "x", "type": "quantitative"}, "y": {"field": "y", "type": "quantitative"}, "text": {"field": "t"}}}
    ]
  }
]
}
